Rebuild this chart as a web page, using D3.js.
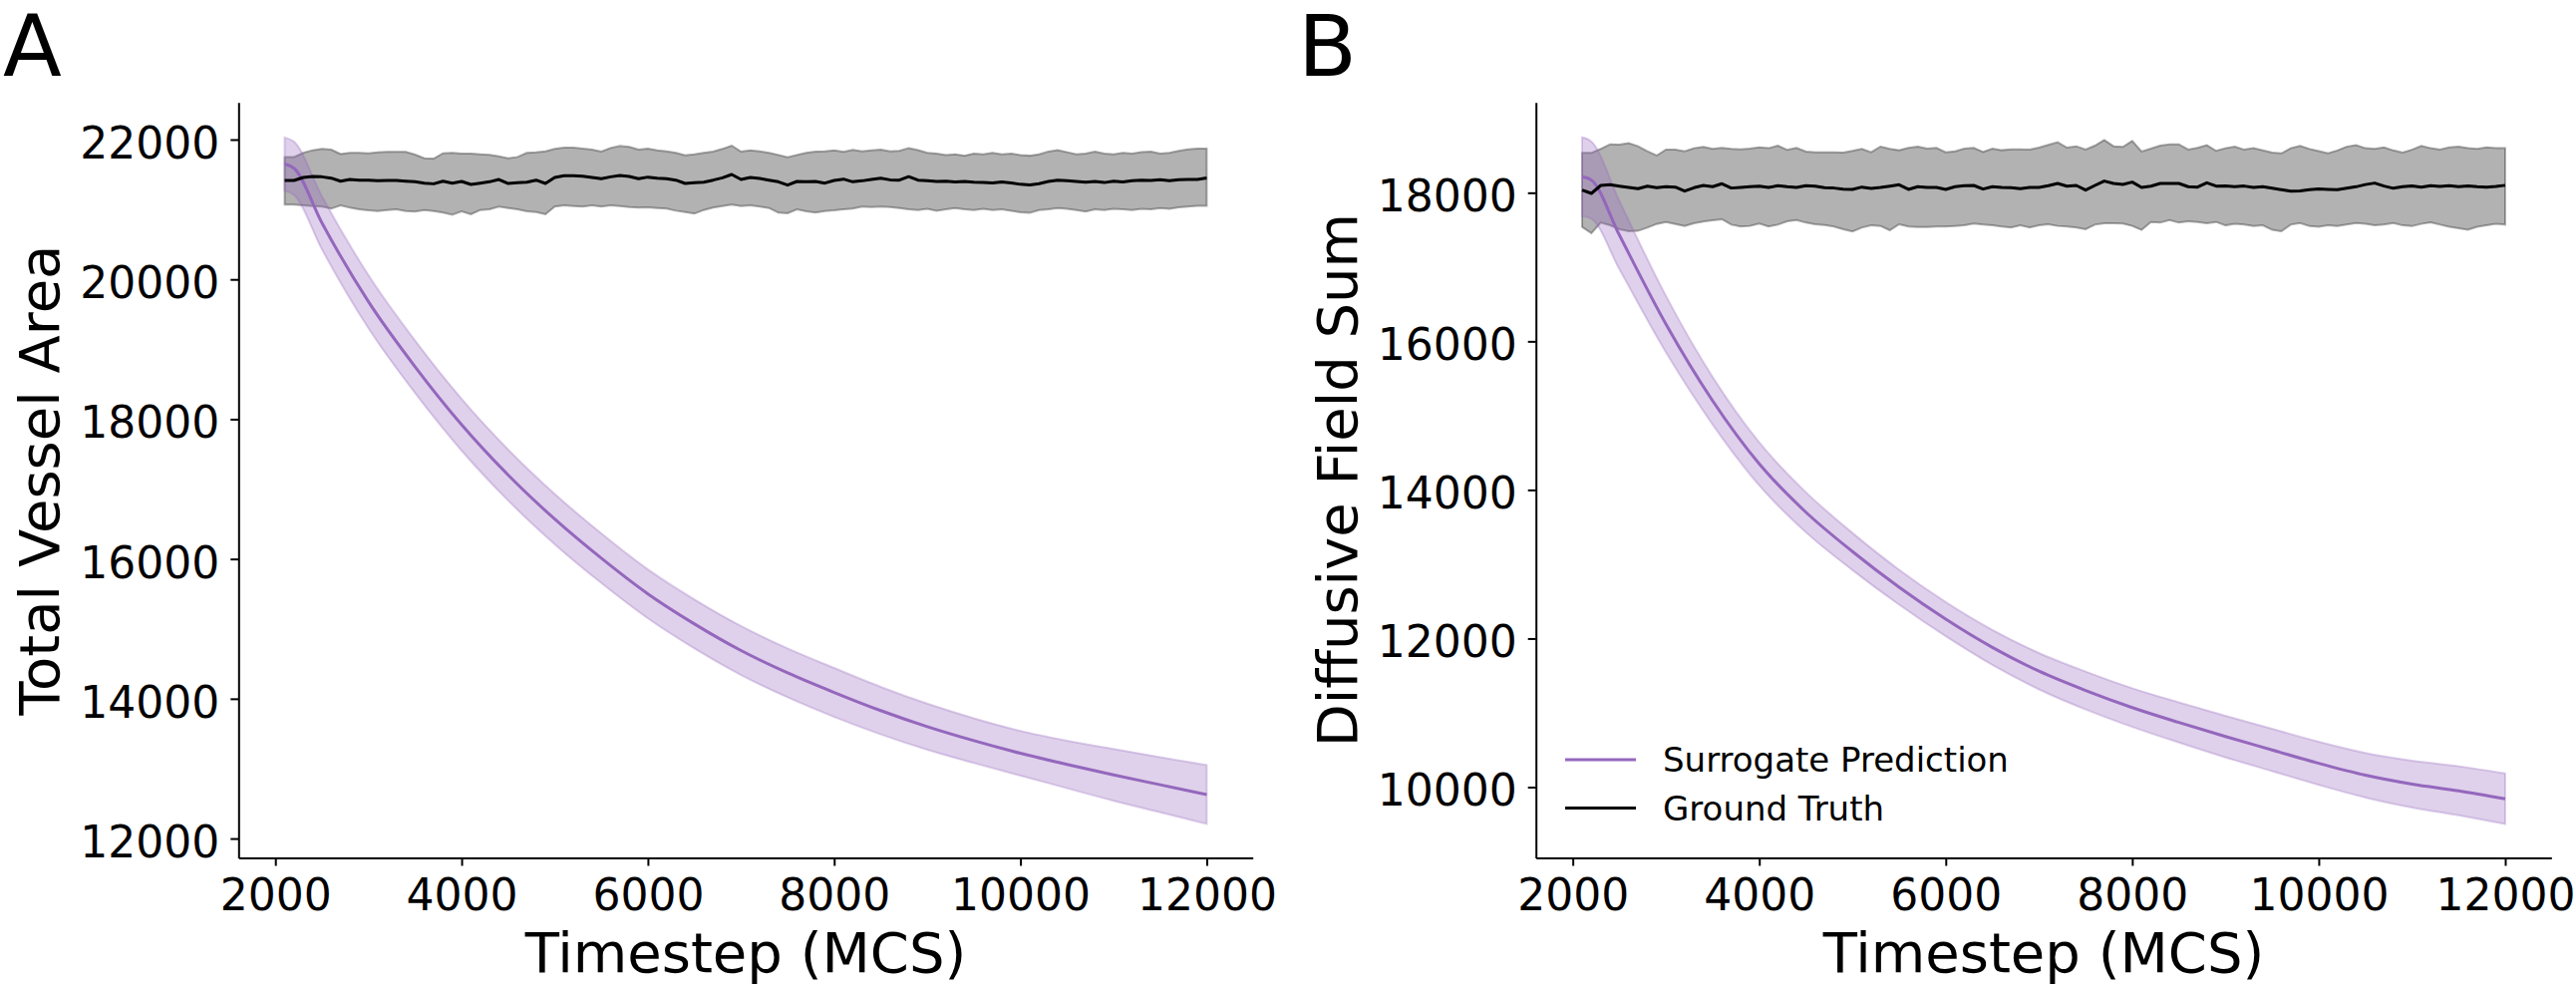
<!DOCTYPE html>
<html>
<head>
<meta charset="utf-8">
<script src="https://cdn.jsdelivr.net/npm/d3@7"></script>
<style>
  body { margin: 0; background: #fff; }
  text { font-family: "DejaVu Sans", sans-serif; fill: #000; }
</style>
</head>
<body>
<div id="chart"></div>
<script>
// timestep grid of the ground truth runs (MCS)
const timesteps = d3.range(2100, 12001, 100)

// panel A : total vessel area, ground truth mean and band edges
const gtMeanA = [21415, 21415, 21458, 21472, 21467, 21448, 21405, 21429, 21420, 21420,
  21410, 21415, 21415, 21405, 21396, 21377, 21367, 21405, 21377, 21401,
  21358, 21377, 21396, 21429, 21372, 21382, 21391, 21420, 21372, 21458,
  21482, 21482, 21477, 21458, 21439, 21467, 21486, 21472, 21439, 21463,
  21448, 21439, 21420, 21372, 21382, 21391, 21420, 21453, 21501, 21429,
  21458, 21444, 21420, 21396, 21348, 21401, 21396, 21401, 21377, 21415,
  21434, 21396, 21410, 21429, 21448, 21424,
  21420, 21470, 21420, 21410, 21400, 21405, 21395, 21400, 21390, 21385,
  21380, 21395, 21380, 21360, 21350, 21370, 21400, 21420, 21410, 21400,
  21390, 21400, 21385, 21405, 21395, 21410, 21420, 21415, 21425, 21410,
  21425, 21430, 21430, 21450]
const gtUpA = [21752, 21752, 21810, 21848, 21867, 21857, 21795, 21810, 21810, 21805,
  21819, 21824, 21824, 21824, 21786, 21733, 21728, 21805, 21810, 21800,
  21800, 21790, 21781, 21762, 21733, 21752, 21810, 21819, 21833, 21867,
  21886, 21886, 21871, 21857, 21829, 21881, 21909, 21895, 21857, 21871,
  21848, 21833, 21810, 21776, 21790, 21810, 21829, 21867, 21914, 21829,
  21848, 21833, 21810, 21781, 21748, 21781, 21810, 21829, 21833, 21848,
  21824, 21852, 21833, 21848, 21857, 21833,
  21840, 21880, 21850, 21810, 21800, 21780, 21790, 21770, 21800, 21790,
  21810, 21790, 21800, 21780, 21770, 21790, 21830, 21850, 21820, 21790,
  21800, 21830, 21800, 21790, 21810, 21800, 21820, 21830, 21800, 21810,
  21840, 21860, 21870, 21870]
const gtLowA = [21068, 21068, 21059, 21049, 21040, 21011, 21059, 21025, 21001, 20987,
  20978, 20992, 21001, 20978, 20968, 20992, 20978, 20954, 20925, 20973,
  20930, 20992, 21001, 21040, 21020, 21001, 20973, 20963, 20930, 21040,
  21059, 21049, 21040, 21059, 21040, 21059, 21049, 21035, 21025, 21030,
  21020, 21011, 20982, 20963, 20940, 20992, 21025, 21049, 21068, 21049,
  21059, 21040, 21020, 20954, 20944, 21001, 20973, 20954, 20978, 20987,
  21001, 21011, 21040, 21035, 21040, 21035,
  21020, 21000, 20990, 21010, 20980, 21000, 21020, 21000, 20990, 21010,
  20990, 21000, 20980, 20960, 20950, 20990, 21000, 21020, 21010, 20990,
  20970, 21000, 20990, 21010, 21000, 20990, 21010, 21000, 21020, 21010,
  21030, 21040, 21050, 21050]

// panel B : diffusive field sum, ground truth mean and band edges
const gtMeanB = [18036, 17991, 18098, 18107, 18089, 18072, 18054, 18089, 18067, 18081,
  18076, 18022, 18067, 18098, 18081, 18121, 18063, 18072, 18081, 18089,
  18072, 18094, 18081, 18072, 18094, 18089, 18067, 18063, 18049, 18045,
  18076, 18058, 18072, 18089, 18107, 18045, 18081, 18072, 18072, 18045,
  18081, 18094, 18098, 18049, 18081, 18072, 18067, 18054, 18072, 18072,
  18094, 18125, 18089, 18098, 18036, 18098, 18157, 18125, 18112, 18143,
  18072, 18089, 18125, 18125, 18125, 18081, 18076, 18134, 18089,
  18090, 18080, 18090, 18070, 18080, 18060, 18040, 18020, 18025, 18040,
  18050, 18045, 18040, 18060, 18080, 18110, 18130, 18090, 18060, 18080,
  18090, 18075, 18095, 18085, 18095, 18080, 18090, 18080, 18075, 18085, 18100]
const gtUpB = [18537, 18537, 18591, 18653, 18649, 18667, 18626, 18559, 18501, 18582,
  18582, 18559, 18600, 18617, 18591, 18604, 18591, 18586, 18595, 18613,
  18600, 18635, 18577, 18604, 18555, 18546, 18546, 18546, 18541, 18564,
  18591, 18546, 18622, 18591, 18573, 18604, 18622, 18595, 18604, 18546,
  18559, 18595, 18604, 18550, 18595, 18573, 18586, 18586, 18582, 18608,
  18644, 18680, 18608, 18626, 18582, 18635, 18711, 18626, 18617, 18698,
  18555, 18595, 18635, 18653, 18653, 18582, 18604, 18640, 18564,
  18600, 18620, 18580, 18600, 18570, 18540, 18530, 18600, 18630, 18590,
  18560, 18530, 18570, 18620, 18640, 18600, 18590, 18610, 18570, 18540,
  18580, 18630, 18600, 18580, 18610, 18620, 18600, 18590, 18610, 18600, 18600]
const gtLowB = [17539, 17454, 17597, 17562, 17508, 17481, 17486, 17530, 17579, 17606,
  17579, 17553, 17588, 17611, 17629, 17642, 17570, 17544, 17553, 17584,
  17544, 17570, 17615, 17633, 17597, 17575, 17566, 17544, 17508, 17477,
  17530, 17562, 17553, 17494, 17575, 17544, 17539, 17539, 17544, 17544,
  17553, 17562, 17584, 17570, 17562, 17544, 17530, 17562, 17530, 17562,
  17575, 17553, 17544, 17530, 17508, 17570, 17588, 17588, 17584, 17553,
  17499, 17606, 17597, 17633, 17597, 17615, 17606, 17588, 17606,
  17560, 17580, 17570, 17550, 17560, 17500, 17480, 17570, 17590, 17550,
  17540, 17560, 17550, 17570, 17590, 17580, 17560, 17570, 17590, 17560,
  17550, 17580, 17600, 17570, 17540, 17520, 17500, 17540, 17560, 17580, 17570]

// surrogate prediction, mean and half width of the band
const surrSteps = [2100, 2200, 2500, 3000, 3500, 4000, 4500, 5000, 5500, 6000, 6500,
  7000, 7500, 8000, 8500, 9000, 9500, 10000, 10500, 11000, 11500, 12000]
const surrMeanA = [21650, 21590, 20810, 19680, 18750, 17920, 17200, 16570, 16010, 15500, 15070,
  14690, 14370, 14090, 13830, 13600, 13400, 13220, 13060, 12910, 12770, 12630]
const surrSdA = [380, 380, 380, 380, 375, 370, 365, 360, 355, 350, 350,
  350, 350, 350, 340, 330, 320, 320, 340, 370, 395, 420]
const surrMeanB = [18215, 18170, 17430, 16230, 15200, 14350, 13700, 13170, 12690, 12260, 11880,
  11560, 11300, 11070, 10870, 10680, 10500, 10320, 10160, 10040, 9950, 9843]
const surrSdB = [530, 520, 460, 380, 320, 290, 270, 250, 235, 230, 235,
  245, 255, 260, 270, 280, 285, 290, 300, 315, 330, 340]

const xTicks = [2000, 4000, 6000, 8000, 10000, 12000]
const yTicksA = [12000, 14000, 16000, 18000, 20000, 22000]
const yTicksB = [10000, 12000, 14000, 16000, 18000]
const seriesNames = ['Surrogate Prediction', 'Ground Truth']

const purple = '#9467bd'

let svg = d3.select('#chart')
  .append('svg')
  .attr('width', 2584)
  .attr('height', 988)
  .attr('xmlns', 'http://www.w3.org/2000/svg')

let panels = [
  { letter: 'A', lx: 3, left: 239.3, right: 1256.7, ylab: 'Total Vessel Area', ylx: 59,
    ydom: [11723, 22532], yTicks: yTicksA,
    mean: gtMeanA, up: gtUpA, low: gtLowA, sm: surrMeanA, sd: surrSdA, legend: false },
  { letter: 'B', lx: 1302, left: 1540.7, right: 2559.3, ylab: 'Diffusive Field Sum', ylx: 1361,
    ydom: [9047, 19216], yTicks: yTicksB,
    mean: gtMeanB, up: gtUpB, low: gtLowB, sm: surrMeanB, sd: surrSdB, legend: true }
]
let plotTop = 102.7, plotBottom = 860.5

panels.forEach(p => {
  let x = d3.scaleLinear().domain([1605, 12495]).range([p.left, p.right])
  let y = d3.scaleLinear().domain(p.ydom).range([plotBottom, plotTop])
  let g = svg.append('g')

  // ground truth band
  let gt = timesteps.map((t, i) => ({ t: t, m: p.mean[i], hi: p.up[i], lo: p.low[i] }))
  g.append('path')
    .attr('d', d3.area().x(d => x(d.t)).y0(d => y(d.lo)).y1(d => y(d.hi))(gt))
    .attr('fill', '#000').attr('fill-opacity', 0.3)
    .attr('stroke', '#000').attr('stroke-opacity', 0.3).attr('stroke-width', 2)

  // surrogate band
  let sr = surrSteps.map((t, i) => ({ t: t, m: p.sm[i], sd: p.sd[i] }))
  g.append('path')
    .attr('d', d3.area().curve(d3.curveMonotoneX)
      .x(d => x(d.t)).y0(d => y(d.m - d.sd)).y1(d => y(d.m + d.sd))(sr))
    .attr('fill', purple).attr('fill-opacity', 0.3)
    .attr('stroke', purple).attr('stroke-opacity', 0.3).attr('stroke-width', 2)

  g.append('path')
    .attr('d', d3.line().curve(d3.curveMonotoneX).x(d => x(d.t)).y(d => y(d.m))(sr))
    .attr('fill', 'none').attr('stroke', purple).attr('stroke-width', 3)

  g.append('path')
    .attr('d', d3.line().x(d => x(d.t)).y(d => y(d.m))(gt))
    .attr('fill', 'none').attr('stroke', '#000').attr('stroke-width', 3)
    .attr('stroke-linejoin', 'round')

  // axes
  let xAxis = g.append('g')
    .attr('transform', `translate(0,${plotBottom})`)
    .call(d3.axisBottom(x).tickValues(xTicks).tickFormat(d3.format('d'))
      .tickSize(8).tickSizeOuter(0).tickPadding(13))
  let yAxis = g.append('g')
    .attr('transform', `translate(${p.left},0)`)
    .call(d3.axisLeft(y).tickValues(p.yTicks).tickFormat(d3.format('d'))
      .tickSize(8).tickSizeOuter(0).tickPadding(11))
  ;[xAxis, yAxis].forEach(a => {
    a.select('.domain').attr('stroke', '#000').attr('stroke-width', 2)
    a.selectAll('.tick line').attr('stroke', '#000').attr('stroke-width', 2)
    a.selectAll('.tick text')
      .attr('font-family', '"DejaVu Sans", sans-serif')
      .attr('font-size', 44).attr('fill', '#000')
  })
  yAxis.selectAll('.tick text').attr('dy', '0.42em')

  g.append('text')
    .attr('x', (p.left + p.right) / 2)
    .attr('y', 975)
    .attr('text-anchor', 'middle')
    .attr('font-size', 56)
    .text('Timestep (MCS)')

  g.append('text')
    .attr('transform', `translate(${p.ylx},${(plotTop + plotBottom) / 2}) rotate(-90)`)
    .attr('text-anchor', 'middle')
    .attr('font-size', 56)
    .text(p.ylab)

  g.append('text')
    .attr('x', p.lx)
    .attr('y', 76)
    .attr('font-size', 86)
    .text(p.letter)

  if (p.legend) {
    let lg = g.append('g')
    let colors = [purple, '#000']
    seriesNames.forEach((name, i) => {
      let ly = 762 + i * 48.5
      lg.append('line')
        .attr('x1', 1570).attr('x2', 1641)
        .attr('y1', ly).attr('y2', ly)
        .attr('stroke', colors[i]).attr('stroke-width', 3)
      lg.append('text')
        .attr('x', 1668)
        .attr('y', ly + 12)
        .attr('font-size', 34)
        .text(name)
    })
  }
})
</script>
</body>
</html>
